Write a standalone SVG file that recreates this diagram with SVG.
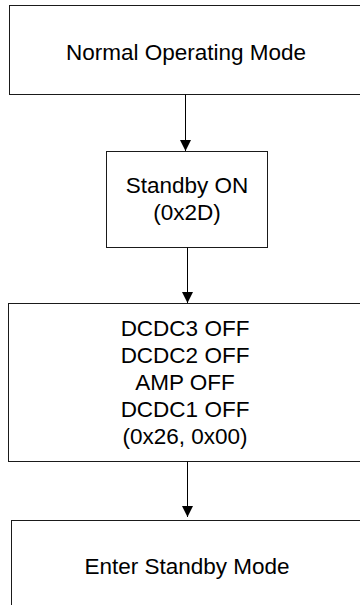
<svg xmlns="http://www.w3.org/2000/svg" width="360" height="605" viewBox="0 0 360 605">
  <style>
    .box { fill: #ffffff; stroke: #1a1a1a; stroke-width: 1; }
    .lbl { font-family: "Liberation Sans", Arial, sans-serif; font-size: 22.5px; fill: #000000; text-anchor: middle; }
    .wire { stroke: #000000; stroke-width: 1; fill: none; marker-end: url(#head); }
  </style>
  <defs>
    <marker id="head" viewBox="0 0 12 12" refX="12" refY="6" markerWidth="11.5" markerHeight="11.5" markerUnits="userSpaceOnUse" orient="auto">
      <path d="M0,0 L12,6 L0,12 Z" fill="#000000"/>
    </marker>
  </defs>
  <rect width="360" height="605" fill="#ffffff"/>

  <g id="normal-mode">
    <rect class="box" x="9.5" y="5.5" width="360" height="89"/>
    <text class="lbl" x="186" y="60.3">Normal Operating Mode</text>
  </g>

  <g id="standby-on">
    <rect class="box" x="106.5" y="151.5" width="161" height="96"/>
    <text class="lbl" x="187" y="193.3">Standby ON</text>
    <text class="lbl" x="187" y="219.5">(0x2D)</text>
  </g>

  <g id="supplies-off">
    <rect class="box" x="8.5" y="303.5" width="360" height="158"/>
    <text class="lbl" x="185" y="336">DCDC3 OFF</text>
    <text class="lbl" x="185" y="363">DCDC2 OFF</text>
    <text class="lbl" x="185" y="390">AMP OFF</text>
    <text class="lbl" x="185" y="417">DCDC1 OFF</text>
    <text class="lbl" x="185" y="443.5">(0x26, 0x00)</text>
  </g>

  <g id="enter-standby">
    <rect class="box" x="11.5" y="520.5" width="360" height="100"/>
    <text class="lbl" x="187" y="573.7">Enter Standby Mode</text>
  </g>

  <g id="connectors">
    <line class="wire" x1="185.5" y1="94.5" x2="185.5" y2="151"/>
    <line class="wire" x1="187.5" y1="247.5" x2="187.5" y2="303"/>
    <line class="wire" x1="187.5" y1="461.5" x2="187.5" y2="517"/>
  </g>
</svg>
